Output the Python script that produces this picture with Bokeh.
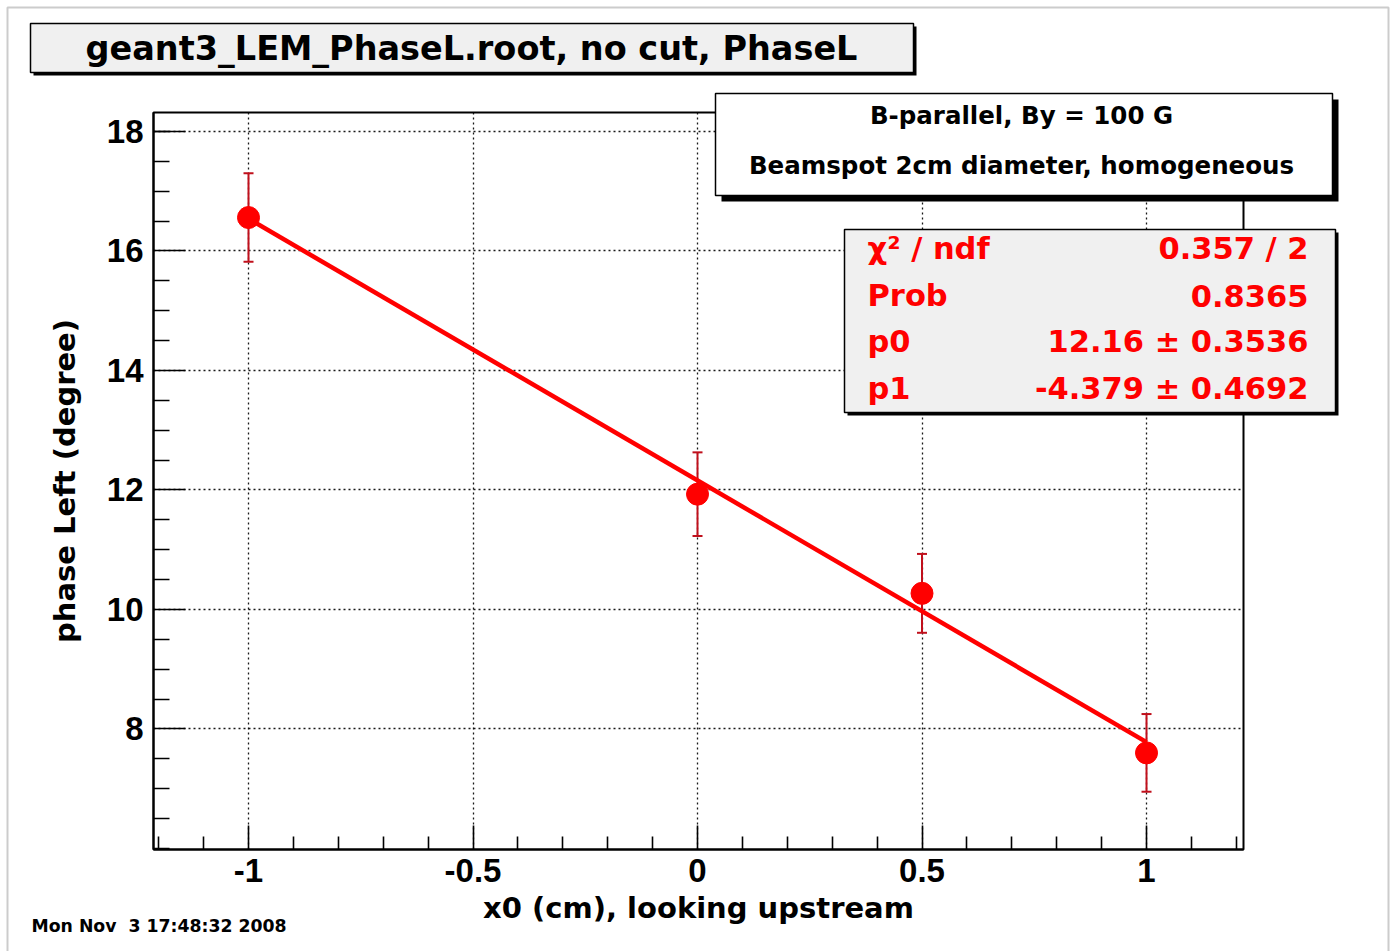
from bokeh.plotting import figure
from bokeh.models import (ColumnDataSource, Whisker, TeeHead, FixedTicker, Label,
                          BoxAnnotation, Range1d, Grid)
from bokeh.embed import file_html
from bokeh.resources import INLINE

# ---------------- data ----------------
x0 = [-1.0, 0.0, 0.5, 1.0]
phase = [16.56, 11.93, 10.27, 7.60]
phase_err = [0.74, 0.70, 0.66, 0.65]

fit_x = [-1.0, 1.0]
fit_y = [16.54, 7.78]

x_ticks = [-1.0, -0.5, 0.0, 0.5, 1.0]
x_tick_labels = ["-1", "-0.5", "0", "0.5", "1"]
x_minor = [-1.2, -1.1, -0.9, -0.8, -0.7, -0.6, -0.4, -0.3, -0.2, -0.1,
           0.1, 0.2, 0.3, 0.4, 0.6, 0.7, 0.8, 0.9, 1.1, 1.2]
y_ticks = [8, 10, 12, 14, 16, 18]
y_tick_labels = ["8", "10", "12", "14", "16", "18"]
y_minor = [6.0, 6.5, 7.0, 7.5, 8.5, 9.0, 9.5, 10.5, 11.0, 11.5, 12.5, 13.0, 13.5,
           14.5, 15.0, 15.5, 16.5, 17.0, 17.5, 18.0]

title_text = "geant3_LEM_PhaseL.root, no cut, PhaseL"
info_lines = ["B-parallel, By = 100 G", "Beamspot 2cm diameter, homogeneous"]
stat_names = ["\u03c7\u00b2 / ndf", "Prob", "p0", "p1"]
stat_values = ["0.357 / 2", "0.8365", "12.16 \u00b1 0.3536", "-4.379 \u00b1 0.4692"]
date_text = "Mon Nov \u00a03 17:48:32 2008"
x_label = "x0 (cm), looking upstream"
y_label = "phase Left (degree)"

# ---------------- layout ----------------
XR = (-1.2116, 1.2160)      # plot-area x extent
YR = (5.983, 18.318)        # plot-area y extent
W, H = 1392, 951
FL, FR, FT, FB = 153, 1243, 112, 849   # plot-area edges in canvas pixels

RED = "#ff0000"
ERR = "#c0101c"
FONT = "DejaVu Sans"
TICKFONT = "Liberation Sans"


def dx(px):
    return XR[0] + (px - FL) * (XR[1] - XR[0]) / (FR - FL)


def dy(py):
    return YR[1] - (py - FT) * (YR[1] - YR[0]) / (FB - FT)


def text_at(px, baseline_px, text, size, align="left", color="black"):
    # compensate the renderer's baseline offset (about 0.36 em)
    return Label(x=dx(px), y=dy(baseline_px - 0.36 * size), text=text,
                 text_align=align, text_baseline="alphabetic", text_font=FONT,
                 text_font_style="bold", text_font_size=f"{size}px",
                 text_color=color)


# the frame covers the whole canvas; axes are pinned to the plot-area edges
p = figure(width=W, height=H, x_range=Range1d(dx(0), dx(W)),
           y_range=Range1d(dy(H), dy(0)), title=None,
           output_backend="svg", toolbar_location=None, min_border=0)
p.background_fill_color = "white"
p.border_fill_color = "white"
p.outline_line_color = None

# canvas border
p.add_layout(BoxAnnotation(left=dx(7), right=dx(1388), top=dy(7), bottom=dy(1000),
                           fill_alpha=0, line_color="#cccccc", line_alpha=1,
                           line_width=2))

# axes
xa = p.xaxis[0]
xa.ticker = FixedTicker(ticks=x_ticks, minor_ticks=x_minor)
xa.major_label_overrides = {t: l for t, l in zip(x_ticks, x_tick_labels)}
xa.fixed_location = YR[0]
xa.bounds = XR
ya = p.yaxis[0]
ya.ticker = FixedTicker(ticks=y_ticks, minor_ticks=y_minor)
ya.major_label_overrides = {t: l for t, l in zip(y_ticks, y_tick_labels)}
ya.fixed_location = XR[0]
ya.bounds = YR

for ax in (xa, ya):
    ax.axis_line_color = "black"
    ax.axis_line_width = 2
    ax.major_tick_out = 0
    ax.minor_tick_out = 0
    ax.major_tick_line_color = "black"
    ax.minor_tick_line_color = "black"
    ax.major_tick_line_width = 1.6
    ax.minor_tick_line_width = 1.6
    ax.major_label_text_font = TICKFONT
    ax.major_label_text_font_style = "bold"
    ax.major_label_text_font_size = "33px"
    ax.major_label_text_color = "black"
    ax.axis_label_text_font = FONT
    ax.axis_label_text_font_style = "bold"
    ax.axis_label_text_font_size = "29px"
    ax.axis_label_text_color = "black"

xa.major_tick_in = 24
xa.minor_tick_in = 13
xa.major_label_standoff = 9
xa.axis_label = x_label
xa.axis_label_standoff = 6

ya.major_tick_in = 32
ya.minor_tick_in = 16
ya.major_label_standoff = 10
ya.axis_label = y_label
ya.axis_label_standoff = 22

has_cross = "cross_bounds" in Grid.properties()
for g, b, cb in ((p.xgrid[0], XR, YR), (p.ygrid[0], YR, XR)):
    g.grid_line_color = "black"
    g.grid_line_dash = "2 3"
    g.grid_line_width = 1.3
    g.grid_line_alpha = 0.9
    g.bounds = b
    if has_cross:
        g.cross_bounds = cb
if not has_cross:
    p.xgrid[0].visible = False
    p.ygrid[0].visible = False
    p.segment(x0=x_ticks, x1=x_ticks, y0=[YR[0]] * len(x_ticks), y1=[YR[1]] * len(x_ticks),
              line_color="black", line_dash="2 3", line_width=1.3, line_alpha=0.9)
    p.segment(x0=[XR[0]] * len(y_ticks), x1=[XR[1]] * len(y_ticks), y0=y_ticks, y1=y_ticks,
              line_color="black", line_dash="2 3", line_width=1.3, line_alpha=0.9)

# data
src = ColumnDataSource(dict(x=x0, y=phase,
                            upper=[v + e for v, e in zip(phase, phase_err)],
                            lower=[v - e for v, e in zip(phase, phase_err)]))
p.add_layout(Whisker(base="x", upper="upper", lower="lower", source=src,
                     dimension="height", line_color=ERR, line_width=2,
                     upper_head=TeeHead(size=10, line_color=ERR, line_width=2),
                     lower_head=TeeHead(size=10, line_color=ERR, line_width=2)))
p.scatter("x", "y", source=src, size=22, color=RED, line_color=RED)
p.line(fit_x, fit_y, line_color=RED, line_width=4.5)

# plot-area frame
p.add_layout(BoxAnnotation(left=XR[0], right=XR[1], top=YR[1], bottom=YR[0],
                           fill_alpha=0, line_color="black", line_alpha=1,
                           line_width=2))

# title box
p.add_layout(BoxAnnotation(left=dx(33), right=dx(916), top=dy(26), bottom=dy(75),
                           fill_color="black", fill_alpha=1, line_alpha=0))
p.add_layout(BoxAnnotation(left=dx(30), right=dx(913), top=dy(23), bottom=dy(72),
                           fill_color="#f0f0f0", fill_alpha=1,
                           line_color="black", line_alpha=1, line_width=1.5))
p.add_layout(text_at(471, 60, title_text, 33.5, align="center"))

# info box
p.add_layout(BoxAnnotation(left=dx(721), right=dx(1338), top=dy(99), bottom=dy(201),
                           fill_color="black", fill_alpha=1, line_alpha=0))
p.add_layout(BoxAnnotation(left=dx(715), right=dx(1332), top=dy(93), bottom=dy(195),
                           fill_color="white", fill_alpha=1,
                           line_color="black", line_alpha=1, line_width=1.5))
for txt, base in zip(info_lines, [124, 174]):
    p.add_layout(text_at(1021, base, txt, 24.5, align="center"))

# stats box
p.add_layout(BoxAnnotation(left=dx(847), right=dx(1338), top=dy(232), bottom=dy(415),
                           fill_color="black", fill_alpha=1, line_alpha=0))
p.add_layout(BoxAnnotation(left=dx(844), right=dx(1335), top=dy(229), bottom=dy(412),
                           fill_color="#f0f0f0", fill_alpha=1,
                           line_color="black", line_alpha=1, line_width=1.5))
for name, val, base in zip(stat_names, stat_values, [259, 306, 352, 399]):
    p.add_layout(text_at(867, base, name, 30.5, align="left", color=RED))
    p.add_layout(text_at(1308, base, val, 30.5, align="right", color=RED))

# date stamp
p.add_layout(text_at(31, 932, date_text, 17.3, align="left"))

open("out.html", "w").write(file_html(p, INLINE))
